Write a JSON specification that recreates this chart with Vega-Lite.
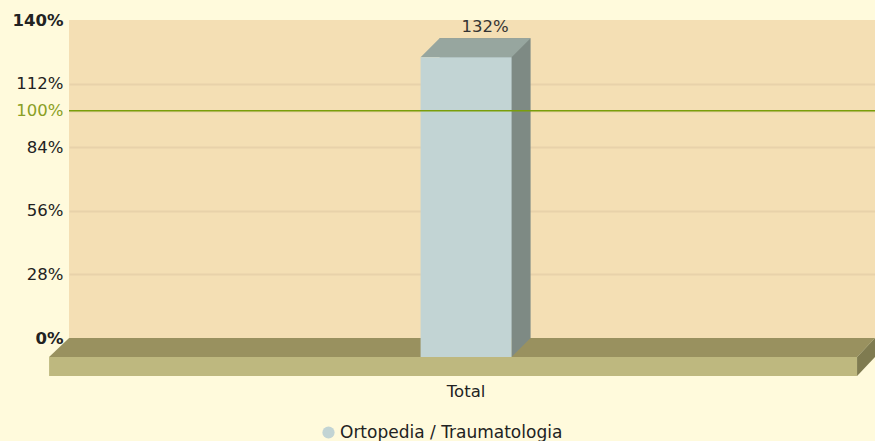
{
  "$schema": "https://vega.github.io/schema/vega-lite/v6.json",
  "autosize": {"type": "none"},
  "width": 806,
  "height": 318,
  "padding": {"left": 69, "top": 20, "right": 0, "bottom": 103},
  "background": "#FFFADC",
  "config": {
    "view": {"fill": "#F4DFB4", "stroke": null},
    "font": "DejaVu Sans"
  },
  "data": {"values": [
    {"categoria": "Total", "serie": "Ortopedia / Traumatologia", "valor": 1.32}
  ]},
  "encoding": {
    "x": {
      "field": "categoria", "type": "nominal",
      "scale": {"type": "band", "paddingInner": 0, "paddingOuter": 1, "align": 0.489},
      "axis": {"title": null, "domain": false, "ticks": false, "labelPadding": 45, "labelFontSize": 16.5, "labelColor": "#222222", "labelAngle": 0, "labelFont": "DejaVu Sans"}
    }
  },
  "layer": [
    {
      "mark": {"type": "point", "filled": true, "opacity": 1, "size": 4, "strokeWidth": 0, "color": "#99915F",
        "shape": "M -397 0 L 409 0 L 391 19 L -417 19 Z"},
      "encoding": {
        "y": {"datum": 0, "type": "quantitative",
          "scale": {"domain": [0, 1.4], "nice": false, "zero": true},
          "axis": {
            "title": null, "domain": false, "ticks": false, "labelPadding": 6,
            "values": [0, 0.28, 0.56, 0.84, 1, 1.12, 1.4],
            "format": ".0%",
            "labelFontSize": 16.5, "labelFont": "DejaVu Sans",
            "labelColor": {"condition": {"test": "datum.value === 1", "value": "#8A9F25"}, "value": "#222222"},
            "labelFontWeight": {"condition": {"test": "datum.value === 0 || datum.value === 1.4", "value": "bold"}, "value": "normal"},
            "grid": true, "gridColor": "#E8D2AA", "gridWidth": 2,
            "gridOpacity": {"condition": {"test": "datum.value === 1.4 || datum.value === 0", "value": 0}, "value": 1}
          }
        }
      }
    },
    {
      "mark": {"type": "point", "filled": true, "opacity": 1, "size": 4, "strokeWidth": 0, "color": "#BEB87F",
        "shape": "M -417 19 L 391 19 L 391 38 L -417 38 Z"},
      "encoding": {"y": {"datum": 0, "type": "quantitative"}}
    },
    {
      "mark": {"type": "point", "filled": true, "opacity": 1, "size": 4, "strokeWidth": 0, "color": "#7F7B50",
        "shape": "M 391 19 L 409 0 L 409 19 L 391 38 Z"},
      "encoding": {"y": {"datum": 0, "type": "quantitative"}}
    },
    {
      "mark": {"type": "bar", "color": "#7E8A84", "width": 91, "xOffset": 19},
      "encoding": {
        "y": {"field": "valor", "type": "quantitative"}
      }
    },
    {
      "mark": {"type": "point", "filled": true, "opacity": 1, "size": 4, "strokeWidth": 0, "color": "#7E8A84",
        "shape": "M 45.5 0 L 64.5 0 L 45.5 19 Z"},
      "encoding": {"y": {"datum": 0, "type": "quantitative"}}
    },
    {
      "mark": {"type": "point", "filled": true, "opacity": 1, "size": 4, "strokeWidth": 0, "color": "#97A69F",
        "shape": "M -45.5 19 L 45.5 19 L 64.5 0 L -26.5 0 Z"},
      "encoding": {"y": {"field": "valor", "type": "quantitative"}}
    },
    {
      "mark": {"type": "bar", "width": 91, "yOffset": 19, "y2Offset": 19},
      "encoding": {
        "y": {"field": "valor", "type": "quantitative"},
        "fill": {
          "field": "serie", "type": "nominal",
          "scale": {"domain": ["Ortopedia / Traumatologia"], "range": ["#C2D4D4"]},
          "legend": {
            "title": null, "orient": "none", "legendX": 251, "legendY": 404,
            "symbolType": "circle", "symbolSize": 150, "symbolStrokeWidth": 0, "symbolOpacity": 1,
            "labelFontSize": 17, "labelFont": "DejaVu Sans", "labelColor": "#222222", "labelOffset": 3, "labelLimit": 0, "padding": 0
          }
        }
      }
    },
    {
      "mark": {"type": "rule", "color": "#7A9E0A", "strokeWidth": 1.5},
      "encoding": {"y": {"datum": 1, "type": "quantitative"}, "x": null}
    },
    {
      "mark": {"type": "text", "fontSize": 16.5, "font": "DejaVu Sans", "color": "#333333", "xOffset": 19, "baseline": "alphabetic", "dy": -6.5},
      "encoding": {
        "y": {"field": "valor", "type": "quantitative"},
        "text": {"field": "valor", "type": "quantitative", "format": ".0%"}
      }
    }
  ]
}
